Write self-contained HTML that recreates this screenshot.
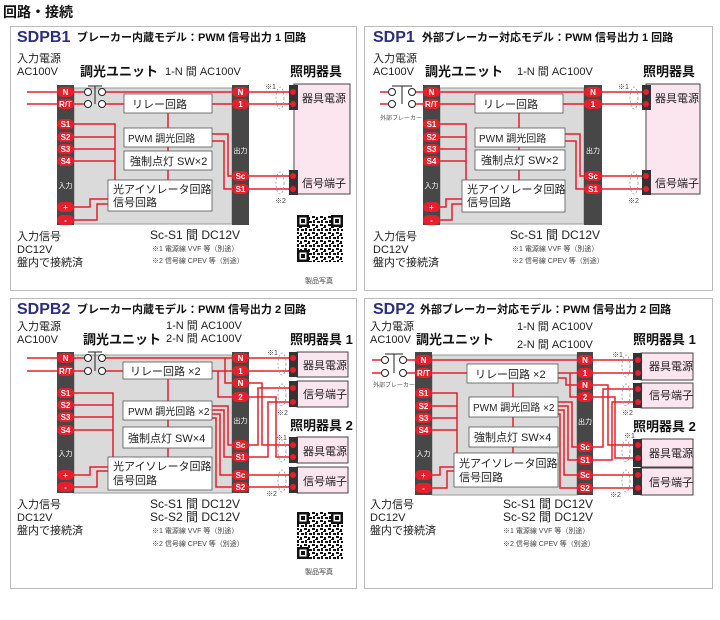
<!DOCTYPE html>
<html><head><meta charset="utf-8"><style>
html,body{margin:0;padding:0;background:#fff}
svg{display:block;font-family:"Liberation Sans","Noto Sans CJK JP",sans-serif}
.r{stroke:#e3202c;stroke-width:1.5;fill:none}
.p{fill:#e3202c}
.pt{fill:#fff;font-size:8px;font-weight:bold;text-anchor:middle}
.st{fill:#474747}
.bd{fill:#dadada;stroke:#9a9a9a;stroke-width:1}
.bx{fill:#fff;stroke:#555;stroke-width:0.8}
.fx{fill:#fbe5ee;stroke:#444;stroke-width:1}
.blk{fill:#333}
.el{fill:none;stroke:#999;stroke-width:0.8;stroke-dasharray:2,2}
.t{font-size:11px;fill:#222}
.tb{font-size:13px;font-weight:bold;fill:#111}
.ts{font-size:7px;fill:#444}
.nv{font-size:16px;font-weight:bold;fill:#2b2f7c}
.sub{font-size:11px;font-weight:bold;fill:#111}
.bk{stroke:#222;stroke-width:1;fill:#fff}
.bkl{stroke:#222;stroke-width:1;fill:none}
.wl{fill:#fff;font-size:7px;text-anchor:middle}
</style></head><body>
<svg width="720" height="620" viewBox="0 0 720 620" xmlns="http://www.w3.org/2000/svg">
<defs>
<pattern id="qr" width="8" height="8" patternUnits="userSpaceOnUse">
<rect width="8" height="8" fill="#fff"/>
<rect x="0" y="0" width="3" height="2" fill="#111"/><rect x="4" y="1" width="2" height="3" fill="#111"/>
<rect x="1" y="4" width="2" height="3" fill="#111"/><rect x="5" y="5" width="3" height="2" fill="#111"/>
<rect x="3" y="3" width="1" height="1" fill="#111"/>
</pattern>
</defs>
<text x="3" y="17" style="font-size:14px;font-weight:bold;fill:#111">回路・接続</text>

<!-- ============ PANEL 1 SDPB1 ============ -->
<rect x="10.5" y="26.5" width="346" height="264" fill="none" stroke="#bbb"/>
<text x="17" y="42" class="nv">SDPB1</text>
<text x="77" y="41" class="sub">ブレーカー内蔵モデル：PWM 信号出力 1 回路</text>
<text x="17" y="62" class="t">入力電源</text>
<text x="17" y="75" class="t">AC100V</text>
<text x="80" y="76" class="tb">調光ユニット</text>
<text x="165" y="75" class="t">1-N 間 AC100V</text>
<text x="290" y="76" class="tb">照明器具</text>
<rect x="74" y="88" width="158" height="136" class="bd"/>
<rect x="57" y="85" width="17" height="140" class="st"/>
<rect x="232" y="85" width="17" height="140" class="st"/>
<path class="r" d="M27 92H57M27 104H57M74 92H84M74 104H84M106 92H232M106 104H124M212 104H232M168 113V128M168 147V151M168 170V180M74 124H115V180M74 137H115M74 149H115M74 161H115M74 207H90V199H108M74 220H97V204H108M212 134H228V176H232M212 141H224V189H232M249 92H290M249 104H290M249 176H290M249 189H290"/>
<path class="bkl" d="M88 86H102M95 86V104"/>
<circle cx="88" cy="92" r="3.5" class="bk"/><circle cx="102" cy="92" r="3.5" class="bk"/>
<circle cx="88" cy="104" r="3.5" class="bk"/><circle cx="102" cy="104" r="3.5" class="bk"/>
<rect x="124" y="94" width="88" height="19" class="bx"/><text x="132" y="108" class="t">リレー回路</text>
<rect x="124" y="128" width="88" height="19" class="bx"/><text x="128" y="142" style="font-size:10px;fill:#222">PWM 調光回路</text>
<rect x="124" y="151" width="88" height="19" class="bx"/><text x="130" y="165" class="t">強制点灯 SW×2</text>
<rect x="108" y="180" width="104" height="31" class="bx"/><text x="113" y="193" class="t">光アイソレータ回路</text><text x="113" y="206" class="t">信号回路</text>
<g>
<rect x="57" y="87" width="17" height="10" rx="5" class="p"/><text x="65.5" y="95" class="pt">N</text>
<rect x="57" y="99" width="17" height="10" rx="5" class="p"/><text x="65.5" y="107" class="pt">R/T</text>
<rect x="57" y="119" width="17" height="10" rx="5" class="p"/><text x="65.5" y="127" class="pt">S1</text>
<rect x="57" y="132" width="17" height="10" rx="5" class="p"/><text x="65.5" y="140" class="pt">S2</text>
<rect x="57" y="144" width="17" height="10" rx="5" class="p"/><text x="65.5" y="152" class="pt">S3</text>
<rect x="57" y="156" width="17" height="10" rx="5" class="p"/><text x="65.5" y="164" class="pt">S4</text>
<text x="65.5" y="188" class="wl">入力</text>
<rect x="57" y="202" width="17" height="10" rx="5" class="p"/><text x="65.5" y="210" class="pt">+</text>
<rect x="57" y="215" width="17" height="10" rx="5" class="p"/><text x="65.5" y="223" class="pt">-</text>
<rect x="232" y="87" width="17" height="10" rx="5" class="p"/><text x="240.5" y="95" class="pt">N</text>
<rect x="232" y="99" width="17" height="10" rx="5" class="p"/><text x="240.5" y="107" class="pt">1</text>
<text x="240.5" y="153" class="wl">出力</text>
<rect x="232" y="171" width="17" height="10" rx="5" class="p"/><text x="240.5" y="179" class="pt">Sc</text>
<rect x="232" y="184" width="17" height="10" rx="5" class="p"/><text x="240.5" y="192" class="pt">S1</text>
</g>
<rect x="294" y="84" width="56" height="110" class="fx"/>
<rect x="289" y="85" width="9" height="25" class="blk"/><rect x="289" y="170" width="9" height="25" class="blk"/>
<circle cx="293" cy="92" r="3" class="p"/><circle cx="293" cy="104" r="3" class="p"/><circle cx="293" cy="176" r="3" class="p"/><circle cx="293" cy="189" r="3" class="p"/>
<text x="302" y="102" class="t">器具電源</text><text x="302" y="187" class="t">信号端子</text>
<ellipse cx="280" cy="98" rx="4" ry="11" class="el"/><ellipse cx="280" cy="183" rx="4" ry="11" class="el"/>
<text x="265" y="89" class="ts">※1</text><text x="275" y="203" class="ts">※2</text>
<text x="17" y="240" class="t">入力信号</text><text x="17" y="253" class="t">DC12V</text><text x="17" y="266" class="t">盤内で接続済</text>
<text x="150" y="239" style="font-size:12px;fill:#222">Sc-S1 間 DC12V</text>
<text x="152" y="251" class="ts">※1 電源線 VVF 等（別途）</text>
<text x="152" y="263" class="ts">※2 信号線 CPEV 等（別途）</text>
<rect x="297" y="215" width="46" height="47" fill="url(#qr)"/>
<rect x="297" y="215" width="12" height="12" fill="#111"/><rect x="299.5" y="217.5" width="7" height="7" fill="#fff"/><rect x="301" y="219" width="4" height="4" fill="#111"/>
<rect x="331" y="215" width="12" height="12" fill="#111"/><rect x="333.5" y="217.5" width="7" height="7" fill="#fff"/><rect x="335" y="219" width="4" height="4" fill="#111"/>
<rect x="297" y="250" width="12" height="12" fill="#111"/><rect x="299.5" y="252.5" width="7" height="7" fill="#fff"/><rect x="301" y="254" width="4" height="4" fill="#111"/>
<text x="305" y="283" class="ts">製品写真</text>

<!-- ============ PANEL 2 SDP1 ============ -->
<rect x="364.5" y="26.5" width="348" height="264" fill="none" stroke="#bbb"/>
<text x="373" y="42" class="nv">SDP1</text>
<text x="422" y="41" class="sub">外部ブレーカー対応モデル：PWM 信号出力 1 回路</text>
<text x="373" y="62" class="t">入力電源</text>
<text x="373" y="75" class="t">AC100V</text>
<text x="425" y="76" class="tb">調光ユニット</text>
<text x="517" y="75" class="t">1-N 間 AC100V</text>
<text x="643" y="76" class="tb">照明器具</text>
<rect x="440" y="88" width="144" height="136" class="bd"/>
<rect x="423" y="85" width="17" height="140" class="st"/>
<rect x="584" y="85" width="18" height="140" class="st"/>
<path class="r" d="M380 92H388M380 104H388M416 92H423M416 104H423M440 92H584M440 104H475M563 104H584M519 113V128M519 147V150M519 170V180M440 124H466V180M440 137H466M440 149H466M440 161H466M440 207H446V199H462M440 220H452V204H462M565 134H580V176H584M565 141H576V189H584M602 92H642M602 104H642M602 176H642M602 189H642"/>
<path class="bkl" d="M392 86H412M402 86V104"/>
<circle cx="392" cy="92" r="3.5" class="bk"/><circle cx="412" cy="92" r="3.5" class="bk"/>
<circle cx="392" cy="104" r="3.5" class="bk"/><circle cx="412" cy="104" r="3.5" class="bk"/>
<text x="380" y="120" style="font-size:6px;fill:#555">外部ブレーカー</text>
<rect x="475" y="94" width="88" height="19" class="bx"/><text x="483" y="108" class="t">リレー回路</text>
<rect x="475" y="128" width="90" height="19" class="bx"/><text x="479" y="142" style="font-size:10px;fill:#222">PWM 調光回路</text>
<rect x="475" y="150" width="90" height="20" class="bx"/><text x="481" y="164" class="t">強制点灯 SW×2</text>
<rect x="462" y="180" width="103" height="32" class="bx"/><text x="467" y="193" class="t">光アイソレータ回路</text><text x="467" y="206" class="t">信号回路</text>
<g>
<rect x="423" y="87" width="17" height="10" rx="5" class="p"/><text x="431.5" y="95" class="pt">N</text>
<rect x="423" y="99" width="17" height="10" rx="5" class="p"/><text x="431.5" y="107" class="pt">R/T</text>
<rect x="423" y="119" width="17" height="10" rx="5" class="p"/><text x="431.5" y="127" class="pt">S1</text>
<rect x="423" y="132" width="17" height="10" rx="5" class="p"/><text x="431.5" y="140" class="pt">S2</text>
<rect x="423" y="144" width="17" height="10" rx="5" class="p"/><text x="431.5" y="152" class="pt">S3</text>
<rect x="423" y="156" width="17" height="10" rx="5" class="p"/><text x="431.5" y="164" class="pt">S4</text>
<text x="431.5" y="188" class="wl">入力</text>
<rect x="423" y="202" width="17" height="10" rx="5" class="p"/><text x="431.5" y="210" class="pt">+</text>
<rect x="423" y="215" width="17" height="10" rx="5" class="p"/><text x="431.5" y="223" class="pt">-</text>
<rect x="584" y="87" width="18" height="10" rx="5" class="p"/><text x="593" y="95" class="pt">N</text>
<rect x="584" y="99" width="18" height="10" rx="5" class="p"/><text x="593" y="107" class="pt">1</text>
<text x="593" y="153" class="wl">出力</text>
<rect x="584" y="171" width="18" height="10" rx="5" class="p"/><text x="593" y="179" class="pt">Sc</text>
<rect x="584" y="184" width="18" height="10" rx="5" class="p"/><text x="593" y="192" class="pt">S1</text>
</g>
<rect x="646" y="84" width="54" height="110" class="fx"/>
<rect x="642" y="85" width="9" height="25" class="blk"/><rect x="642" y="170" width="9" height="25" class="blk"/>
<circle cx="646" cy="92" r="3" class="p"/><circle cx="646" cy="104" r="3" class="p"/><circle cx="646" cy="176" r="3" class="p"/><circle cx="646" cy="189" r="3" class="p"/>
<text x="655" y="102" class="t">器具電源</text><text x="655" y="187" class="t">信号端子</text>
<ellipse cx="634" cy="98" rx="4" ry="11" class="el"/><ellipse cx="634" cy="183" rx="4" ry="11" class="el"/>
<text x="618" y="89" class="ts">※1</text><text x="628" y="203" class="ts">※2</text>
<text x="373" y="240" class="t">入力信号</text><text x="373" y="253" class="t">DC12V</text><text x="373" y="266" class="t">盤内で接続済</text>
<text x="510" y="239" style="font-size:12px;fill:#222">Sc-S1 間 DC12V</text>
<text x="512" y="251" class="ts">※1 電源線 VVF 等（別途）</text>
<text x="512" y="263" class="ts">※2 信号線 CPEV 等（別途）</text>

<!-- ============ PANEL 3 SDPB2 ============ -->
<rect x="10.5" y="298.5" width="346" height="290" fill="none" stroke="#bbb"/>
<text x="17" y="314" class="nv">SDPB2</text>
<text x="77" y="313" class="sub">ブレーカー内蔵モデル：PWM 信号出力 2 回路</text>
<text x="17" y="330" class="t">入力電源</text>
<text x="17" y="343" class="t">AC100V</text>
<text x="83" y="344" class="tb">調光ユニット</text>
<text x="166" y="329" class="t">1-N 間 AC100V</text>
<text x="166" y="342" class="t">2-N 間 AC100V</text>
<text x="290" y="344" class="tb">照明器具 1</text>
<text x="290" y="430" class="tb">照明器具 2</text>
<rect x="74" y="355" width="158" height="138" class="bd"/>
<rect x="57" y="352" width="17" height="141" class="st"/>
<rect x="232" y="352" width="17" height="141" class="st"/>
<path class="r" d="M27 358H57M27 371H57M74 358H84M74 371H84M106 358H232M106 371H123M212 371H232M218 371V397H232M225 358V383H232M168 379V401M168 420V427M168 448V457M74 393H113V457M74 405H113M74 417H113M74 430H113M74 475H90V467H108M74 487H97V471H108M212 406H228V445H232M212 410H224V457H232M212 414H220V475H232M212 418H216V487H232M249 358H290M249 371H290M249 383H262V445H290M249 397H276V457H290M249 445H258V388H290M249 457H268V402H290M249 475H290M249 487H290"/>
<path class="bkl" d="M88 352H102M95 352V371"/>
<circle cx="88" cy="358" r="3.5" class="bk"/><circle cx="102" cy="358" r="3.5" class="bk"/>
<circle cx="88" cy="371" r="3.5" class="bk"/><circle cx="102" cy="371" r="3.5" class="bk"/>
<rect x="123" y="362" width="89" height="17" class="bx"/><text x="130" y="375" class="t">リレー回路 ×2</text>
<rect x="123" y="401" width="89" height="19" class="bx"/><text x="128" y="415" style="font-size:10px;fill:#222">PWM 調光回路 ×2</text>
<rect x="123" y="427" width="89" height="21" class="bx"/><text x="128" y="442" class="t">強制点灯 SW×4</text>
<rect x="108" y="457" width="104" height="33" class="bx"/><text x="113" y="470" class="t">光アイソレータ回路</text><text x="113" y="484" class="t">信号回路</text>
<g>
<rect x="57" y="353" width="17" height="10" rx="5" class="p"/><text x="65.5" y="361" class="pt">N</text>
<rect x="57" y="366" width="17" height="10" rx="5" class="p"/><text x="65.5" y="374" class="pt">R/T</text>
<rect x="57" y="388" width="17" height="10" rx="5" class="p"/><text x="65.5" y="396" class="pt">S1</text>
<rect x="57" y="400" width="17" height="10" rx="5" class="p"/><text x="65.5" y="408" class="pt">S2</text>
<rect x="57" y="412" width="17" height="10" rx="5" class="p"/><text x="65.5" y="420" class="pt">S3</text>
<rect x="57" y="425" width="17" height="10" rx="5" class="p"/><text x="65.5" y="433" class="pt">S4</text>
<text x="65.5" y="456" class="wl">入力</text>
<rect x="57" y="470" width="17" height="10" rx="5" class="p"/><text x="65.5" y="478" class="pt">+</text>
<rect x="57" y="482" width="17" height="10" rx="5" class="p"/><text x="65.5" y="490" class="pt">-</text>
<rect x="232" y="353" width="17" height="10" rx="5" class="p"/><text x="240.5" y="361" class="pt">N</text>
<rect x="232" y="366" width="17" height="10" rx="5" class="p"/><text x="240.5" y="374" class="pt">1</text>
<rect x="232" y="378" width="17" height="10" rx="5" class="p"/><text x="240.5" y="386" class="pt">N</text>
<rect x="232" y="392" width="17" height="10" rx="5" class="p"/><text x="240.5" y="400" class="pt">2</text>
<text x="240.5" y="423" class="wl">出力</text>
<rect x="232" y="440" width="17" height="10" rx="5" class="p"/><text x="240.5" y="448" class="pt">Sc</text>
<rect x="232" y="452" width="17" height="10" rx="5" class="p"/><text x="240.5" y="460" class="pt">S1</text>
<rect x="232" y="470" width="17" height="10" rx="5" class="p"/><text x="240.5" y="478" class="pt">Sc</text>
<rect x="232" y="482" width="17" height="10" rx="5" class="p"/><text x="240.5" y="490" class="pt">S2</text>
</g>
<rect x="297" y="352" width="51" height="25" class="fx"/><rect x="297" y="381" width="51" height="26" class="fx"/>
<rect x="297" y="437" width="51" height="26" class="fx"/><rect x="297" y="467" width="51" height="26" class="fx"/>
<rect x="289" y="352" width="9" height="25" class="blk"/><rect x="289" y="381" width="9" height="26" class="blk"/>
<rect x="289" y="437" width="9" height="26" class="blk"/><rect x="289" y="467" width="9" height="26" class="blk"/>
<circle cx="293" cy="358" r="3" class="p"/><circle cx="293" cy="370" r="3" class="p"/><circle cx="293" cy="388" r="3" class="p"/><circle cx="293" cy="402" r="3" class="p"/>
<circle cx="293" cy="445" r="3" class="p"/><circle cx="293" cy="457" r="3" class="p"/><circle cx="293" cy="475" r="3" class="p"/><circle cx="293" cy="487" r="3" class="p"/>
<text x="303" y="369" class="t">器具電源</text><text x="303" y="398" class="t">信号端子</text>
<text x="303" y="455" class="t">器具電源</text><text x="303" y="485" class="t">信号端子</text>
<ellipse cx="282" cy="364" rx="4" ry="11" class="el"/><ellipse cx="282" cy="395" rx="4" ry="11" class="el"/>
<ellipse cx="282" cy="451" rx="4" ry="11" class="el"/><ellipse cx="282" cy="481" rx="4" ry="11" class="el"/>
<text x="267" y="355" class="ts">※1</text><text x="277" y="415" class="ts">※2</text>
<text x="276" y="440" class="ts">※1</text><text x="266" y="496" class="ts">※2</text>
<text x="17" y="508" class="t">入力信号</text><text x="17" y="521" class="t">DC12V</text><text x="17" y="534" class="t">盤内で接続済</text>
<text x="150" y="508" style="font-size:12px;fill:#222">Sc-S1 間 DC12V</text>
<text x="150" y="521" style="font-size:12px;fill:#222">Sc-S2 間 DC12V</text>
<text x="152" y="533" class="ts">※1 電源線 VVF 等（別途）</text>
<text x="152" y="546" class="ts">※2 信号線 CPEV 等（別途）</text>
<rect x="297" y="512" width="46" height="47" fill="url(#qr)"/>
<rect x="297" y="512" width="12" height="12" fill="#111"/><rect x="299.5" y="514.5" width="7" height="7" fill="#fff"/><rect x="301" y="516" width="4" height="4" fill="#111"/>
<rect x="331" y="512" width="12" height="12" fill="#111"/><rect x="333.5" y="514.5" width="7" height="7" fill="#fff"/><rect x="335" y="516" width="4" height="4" fill="#111"/>
<rect x="297" y="547" width="12" height="12" fill="#111"/><rect x="299.5" y="549.5" width="7" height="7" fill="#fff"/><rect x="301" y="551" width="4" height="4" fill="#111"/>
<text x="305" y="574" class="ts">製品写真</text>

<!-- ============ PANEL 4 SDP2 ============ -->
<rect x="364.5" y="298.5" width="348" height="290" fill="none" stroke="#bbb"/>
<text x="373" y="314" class="nv">SDP2</text>
<text x="420" y="313" class="sub">外部ブレーカー対応モデル：PWM 信号出力 2 回路</text>
<text x="370" y="330" class="t">入力電源</text>
<text x="370" y="343" class="t">AC100V</text>
<text x="416" y="344" class="tb">調光ユニット</text>
<text x="517" y="330" class="t">1-N 間 AC100V</text>
<text x="517" y="348" class="t">2-N 間 AC100V</text>
<text x="633" y="344" class="tb">照明器具 1</text>
<text x="633" y="431" class="tb">照明器具 2</text>
<rect x="432" y="355" width="145" height="140" class="bd"/>
<rect x="415" y="352" width="17" height="143" class="st"/>
<rect x="577" y="352" width="16" height="143" class="st"/>
<path class="r" d="M372 360H381M372 373H381M407 360H415M407 373H415M432 360H577M432 373H467M558 373H577M558 378H566V385H577M570 373V397H577M513 383V397M513 417V427M513 447V453M432 393H457V453M432 406H457M432 418H457M432 430H457M432 475H440V467H454M432 488H447V471H454M558 402H572V447H577M558 406H568V460H577M558 410H564V475H577M558 414H560V488H577M593 360H633M593 373H633M593 385H608V445H633M593 397H615V458H633M593 447H603V389H633M593 460H612V402H633M593 475H633M593 488H633"/>
<path class="bkl" d="M385 354H403M394 354V373"/>
<circle cx="385" cy="360" r="3.5" class="bk"/><circle cx="403" cy="360" r="3.5" class="bk"/>
<circle cx="385" cy="373" r="3.5" class="bk"/><circle cx="403" cy="373" r="3.5" class="bk"/>
<text x="373" y="387" style="font-size:6px;fill:#555">外部ブレーカー</text>
<rect x="467" y="364" width="91" height="19" class="bx"/><text x="475" y="378" class="t">リレー回路 ×2</text>
<rect x="469" y="397" width="89" height="20" class="bx"/><text x="473" y="411" style="font-size:10px;fill:#222">PWM 調光回路 ×2</text>
<rect x="469" y="427" width="89" height="20" class="bx"/><text x="474" y="441" class="t">強制点灯 SW×4</text>
<rect x="454" y="453" width="104" height="34" class="bx"/><text x="459" y="467" class="t">光アイソレータ回路</text><text x="459" y="481" class="t">信号回路</text>
<g>
<rect x="415" y="355" width="17" height="10" rx="5" class="p"/><text x="423.5" y="363" class="pt">N</text>
<rect x="415" y="368" width="17" height="10" rx="5" class="p"/><text x="423.5" y="376" class="pt">R/T</text>
<rect x="415" y="388" width="17" height="10" rx="5" class="p"/><text x="423.5" y="396" class="pt">S1</text>
<rect x="415" y="401" width="17" height="10" rx="5" class="p"/><text x="423.5" y="409" class="pt">S2</text>
<rect x="415" y="413" width="17" height="10" rx="5" class="p"/><text x="423.5" y="421" class="pt">S3</text>
<rect x="415" y="425" width="17" height="10" rx="5" class="p"/><text x="423.5" y="433" class="pt">S4</text>
<text x="423.5" y="456" class="wl">入力</text>
<rect x="415" y="470" width="17" height="10" rx="5" class="p"/><text x="423.5" y="478" class="pt">+</text>
<rect x="415" y="483" width="17" height="10" rx="5" class="p"/><text x="423.5" y="491" class="pt">-</text>
<rect x="577" y="355" width="16" height="10" rx="5" class="p"/><text x="585" y="363" class="pt">N</text>
<rect x="577" y="368" width="16" height="10" rx="5" class="p"/><text x="585" y="376" class="pt">1</text>
<rect x="577" y="380" width="16" height="10" rx="5" class="p"/><text x="585" y="388" class="pt">N</text>
<rect x="577" y="392" width="16" height="10" rx="5" class="p"/><text x="585" y="400" class="pt">2</text>
<text x="585" y="424" class="wl">出力</text>
<rect x="577" y="442" width="16" height="10" rx="5" class="p"/><text x="585" y="450" class="pt">Sc</text>
<rect x="577" y="455" width="16" height="10" rx="5" class="p"/><text x="585" y="463" class="pt">S1</text>
<rect x="577" y="470" width="16" height="10" rx="5" class="p"/><text x="585" y="478" class="pt">Sc</text>
<rect x="577" y="483" width="16" height="10" rx="5" class="p"/><text x="585" y="491" class="pt">S2</text>
</g>
<rect x="641" y="353" width="52" height="27" class="fx"/><rect x="641" y="383" width="52" height="25" class="fx"/>
<rect x="641" y="439" width="52" height="28" class="fx"/><rect x="641" y="468" width="52" height="27" class="fx"/>
<rect x="633" y="353" width="9" height="27" class="blk"/><rect x="633" y="383" width="9" height="25" class="blk"/>
<rect x="633" y="439" width="9" height="28" class="blk"/><rect x="633" y="468" width="9" height="27" class="blk"/>
<circle cx="638" cy="360" r="3" class="p"/><circle cx="638" cy="373" r="3" class="p"/><circle cx="638" cy="389" r="3" class="p"/><circle cx="638" cy="402" r="3" class="p"/>
<circle cx="638" cy="445" r="3" class="p"/><circle cx="638" cy="458" r="3" class="p"/><circle cx="638" cy="475" r="3" class="p"/><circle cx="638" cy="488" r="3" class="p"/>
<text x="649" y="370" class="t">器具電源</text><text x="649" y="399" class="t">信号端子</text>
<text x="649" y="457" class="t">器具電源</text><text x="649" y="486" class="t">信号端子</text>
<ellipse cx="626" cy="366" rx="4" ry="11" class="el"/><ellipse cx="626" cy="395" rx="4" ry="11" class="el"/>
<ellipse cx="626" cy="451" rx="4" ry="11" class="el"/><ellipse cx="626" cy="481" rx="4" ry="11" class="el"/>
<text x="612" y="357" class="ts">※1</text><text x="622" y="415" class="ts">※2</text>
<text x="624" y="438" class="ts">※1</text><text x="610" y="497" class="ts">※2</text>
<text x="370" y="508" class="t">入力信号</text><text x="370" y="521" class="t">DC12V</text><text x="370" y="534" class="t">盤内で接続済</text>
<text x="503" y="508" style="font-size:12px;fill:#222">Sc-S1 間 DC12V</text>
<text x="503" y="521" style="font-size:12px;fill:#222">Sc-S2 間 DC12V</text>
<text x="503" y="533" class="ts">※1 電源線 VVF 等（別途）</text>
<text x="503" y="546" class="ts">※2 信号線 CPEV 等（別途）</text>
</svg>
</body></html>
